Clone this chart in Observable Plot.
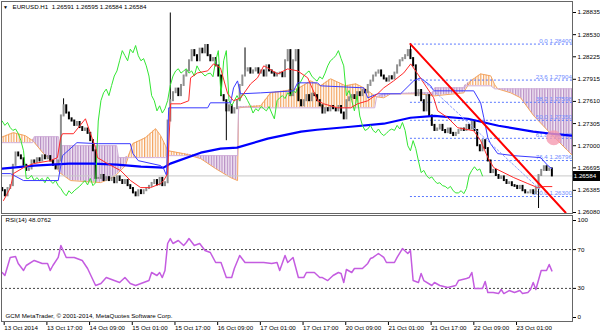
<!DOCTYPE html>
<html><head><meta charset="utf-8">
<script src="https://cdn.jsdelivr.net/npm/d3@7"></script>
<script src="https://cdn.jsdelivr.net/npm/@observablehq/plot@0.6"></script>
<style>
body{margin:0;background:#fff}
#wrap{position:relative;width:600px;height:333px;overflow:hidden;background:#fff}
#wrap svg{position:absolute;left:0}
</style></head><body><div id="wrap"></div>
<script>
// ---------- DATA ----------
const headerText = "EURUSD.H1  1.26591 1.26595 1.26584 1.26584";
const rsiText = "RSI(14) 48.0762";
const copyrightText = "GCM MetaTrader, \u00a9 2001-2014, MetaQuotes Software Corp.";
const firstOpen = 1.2641;
const closes = [
1.2638,1.2631,1.2641,1.2645,1.2673,1.2690,1.2686,1.2682,1.2673,1.2666,
1.2668,1.2679,1.2677,1.2682,1.2679,1.2686,1.2682,1.2685,1.2679,1.2673,
1.2668,1.2679,1.2741,1.2755,1.2745,1.2737,1.2734,1.2728,1.2732,1.2725,
1.2721,1.2723,1.2717,1.2707,1.2693,1.2655,1.2655,1.2659,1.2652,1.2656,
1.2652,1.2655,1.2649,1.2657,1.2652,1.2648,1.2652,1.2645,1.2641,1.2635,
1.2631,1.2638,1.2634,1.2638,1.2641,1.2644,1.2648,1.2652,1.2646,1.2655,
1.2645,1.2649,1.2734,1.2762,1.2773,1.2778,1.2769,1.2783,1.2796,1.2803,
1.2817,1.2831,1.2824,1.2817,1.2833,1.2828,1.2838,1.2824,1.2817,1.2820,
1.2810,1.2796,1.2769,1.2762,1.2748,1.2755,1.2745,1.2751,1.2762,1.2783,
1.2796,1.2803,1.2806,1.2800,1.2803,1.2806,1.2800,1.2803,1.2796,1.2810,
1.2803,1.2800,1.2796,1.2799,1.2800,1.2795,1.2817,1.2831,1.2769,1.2817,
1.2831,1.2762,1.2755,1.2762,1.2769,1.2762,1.2771,1.2769,1.2762,1.2755,
1.2745,1.2751,1.2748,1.2754,1.2751,1.2748,1.2754,1.2745,1.2737,1.2762,
1.2766,1.2769,1.2765,1.2773,1.2769,1.2776,1.2773,1.2783,1.2789,1.2796,
1.2800,1.2803,1.2796,1.2792,1.2789,1.2795,1.2792,1.2800,1.2810,1.2817,
1.2820,1.2824,1.2831,1.2820,1.2810,1.2769,1.2776,1.2762,1.2748,1.2769,
1.2741,1.2728,1.2721,1.2723,1.2728,1.2721,1.2718,1.2723,1.2717,1.2714,
1.2717,1.2721,1.2723,1.2721,1.2728,1.2723,1.2732,1.2721,1.2700,1.2693,
1.2707,1.2696,1.2679,1.2663,1.2666,1.2659,1.2655,1.2657,1.2652,1.2648,
1.2649,1.2645,1.2644,1.2641,1.2644,1.2638,1.2635,1.2635,1.2638,1.2634,
1.2641,1.2659,1.2666,1.2671,1.2666,1.2668,1.26584];
const lastPrice = 1.26584;
// wicks that stand out
const wickBar  = [23, 63, 84, 91, 153, 201];
const wickHigh = [1.27646, 1.28828, 1.2762, 1.28347, 1.28400, 1.2659];
const wickLow  = [1.2741, 1.2734, 1.27069, 1.2796, 1.2820, 1.26135];
// Ichimoku Tenkan-sen
const tenkanBar = [0.5,3.1,4.2,8,11.7,18.1,20.7,21.9,22.6,26.7,31.2,33.1,35,35.7,39.5,44.4,48.1,51.9,55.6,59.4,60.5,62,63.1,66.9,69.9,70.6,73.2,77,79.2,81.8,84.5,86.7,89.4,93.1,95.7,98,99.5,103.2,107,110.7,114.5,118.2,120.5,125.7,130.6,133.2,137,140.7,143,146.7,150.5,153.1,155.7,161.7,163.2,167,170.7,176.7,179.3,182,184.2,191.7,197,200.7,203,206];
const tenkanVal = [1.26245,1.26423,1.26616,1.26698,1.26753,1.26794,1.26836,1.27110,1.27165,1.27165,1.27371,1.27165,1.26973,1.26836,1.26753,1.26657,1.26520,1.26423,1.26423,1.26478,1.26520,1.26616,1.27577,1.27577,1.27619,1.27935,1.28003,1.28031,1.28127,1.28072,1.27715,1.27619,1.27660,1.27852,1.27935,1.28100,1.28072,1.27989,1.28058,1.28031,1.27935,1.27619,1.27577,1.27522,1.27522,1.27577,1.27619,1.27715,1.27797,1.27893,1.28003,1.28127,1.27989,1.27660,1.27481,1.27385,1.27248,1.27206,1.27069,1.26836,1.26698,1.26561,1.26478,1.26423,1.26437,1.26437];
// Ichimoku Kijun-sen
const kijunBar = [0,3.1,8,21,22.6,28,36,48,49,51,59.4,60.5,61.6,62.4,77,78,85.6,86.7,88.2,89.3,96.9,109.2,110.7,118.2,119.3,135.5,137,140.7,149.3,154.2,156.8,160.6,161.7,176.7,179.3,180.5,182,183,185.7,191.7,201.8,204.5,206];
const kijunVal = [1.26616,1.26616,1.26520,1.26520,1.26863,1.27042,1.27028,1.27028,1.26891,1.26794,1.26726,1.26684,1.26588,1.27522,1.27522,1.27591,1.27591,1.27797,1.27893,1.27715,1.27728,1.27756,1.27866,1.27866,1.27825,1.27797,1.27660,1.27715,1.27715,1.27893,1.27935,1.27825,1.27756,1.27756,1.27591,1.27385,1.27110,1.27028,1.26891,1.26863,1.26836,1.26726,1.26684];
// Ichimoku cloud (Senkou span A / B)
const cloudBar = [-0.6,3.1,4.2,8.7,11.4,12.1,15.5,20,21.1,21.5,25.6,36.9,40.6,42.9,43.6,46.2,47.4,48.9,53.7,57.5,59.4,61.2,62,68,74.4,80,85.6,88.2,88.6,96.9,100.6,110.7,115.6,119.3,123.1,128.7,132.5,135.5,139.6,140.3,143,145.6,156.8,161.3,162.1,173,173.3,175.6,179.3,183.1,184.6,185.7,190.6,194.3,199.2,205.6,211.9,213.8];
const spanA = [1.27110,1.27165,1.27179,1.27138,1.27069,1.27042,1.26891,1.26726,1.26657,1.26630,1.26520,1.26492,1.26547,1.26602,1.26630,1.26726,1.26863,1.27028,1.27110,1.27234,1.27138,1.27000,1.26932,1.26891,1.26822,1.26684,1.26561,1.26520,1.27522,1.27550,1.27728,1.27783,1.27893,1.27825,1.27921,1.27825,1.27852,1.27797,1.27687,1.27673,1.27660,1.27715,1.27715,1.27687,1.27687,1.27728,1.27756,1.27893,1.27989,1.27962,1.27838,1.27783,1.27728,1.27660,1.27412,1.27165,1.26932,1.26863];
const spanB = [1.27042,1.27042,1.27042,1.27042,1.27042,1.27124,1.27124,1.27124,1.27124,1.27000,1.27000,1.27000,1.27000,1.27000,1.26836,1.26836,1.26836,1.26836,1.26836,1.26836,1.26836,1.26836,1.26863,1.26863,1.26863,1.26863,1.26863,1.26863,1.27536,1.27522,1.27522,1.27522,1.27522,1.27522,1.27522,1.27522,1.27522,1.27522,1.27522,1.27673,1.27715,1.27715,1.27728,1.27728,1.27797,1.27797,1.27825,1.27825,1.27825,1.27825,1.27783,1.27783,1.27783,1.27783,1.27783,1.27783,1.27783,1.27783];
// Moving average 200
const maBar = [0,12,25,34,43,52,60.5,63,74.4,81.8,88,99.5,112,118,130.6,143,153,162,174.5,186,199,206,213.8];
const maVal = [1.26684,1.26726,1.26753,1.26753,1.26739,1.26712,1.26698,1.26753,1.26904,1.26959,1.26973,1.27097,1.27193,1.27220,1.27261,1.27303,1.27385,1.27412,1.27371,1.27275,1.27193,1.27165,1.27138];
// Chikou span: closes shifted back
const chikouShift = 26;
// Fibonacci retracement
const fibStartBar = 153;
const fibLevels = [0.0, 23.6, 38.2, 50.0, 61.8, 76.4, 100.0];
const fibPrices = [1.28400, 1.27904, 1.27598, 1.27350, 1.27102, 1.26796, 1.26300];
// trend line & channel
const trendBar = [153, 211.1];
const trendPrice = [1.28400, 1.26080];
const channelBar = [157, 202];
const channelPrice = [1.27921, 1.26382];
const circleBar = [206.7];
const circlePrice = [1.27110];
// price axis
const priceTicks = [1.26080, 1.26385, 1.26695, 1.27000, 1.27305, 1.27610, 1.27915, 1.28225, 1.28530, 1.28835];
// RSI
const rsiBar = [0,1,3,5,6,8,9,12,15,17,18,19,21,22,24,27,30,32,35,37,39,42,44,46,48,50,53,55,56,58,59,60,61,62,63,64,66,68,69,70,72,74,76,78,80,82,84,86,87,89,91,94,98,101,103,104,106,107,109,111,113,114,117,119,120,122,124,126,127,128,129,131,132,135,137,138,139,141,143,144,147,148,150,152,153,154,156,157,158,161,162,164,167,170,171,174,175,176,177,180,181,182,184,186,187,188,190,192,194,195,197,198,199,200,202,204,205,206];
const rsiVal = [46.4,43.3,61.9,62.9,55.7,48.5,53.6,58.8,55.7,55.7,48.5,53.6,61.9,74.2,61.9,61.9,58.8,50.5,33.0,35.1,41.2,38.1,36.1,41.2,35.1,33.0,36.1,38.1,46.4,43.3,46.4,41.2,48.5,76.3,81.4,76.3,79.4,74.2,77.3,81.4,74.2,76.3,69.1,67.0,56.7,56.7,41.2,41.2,50.5,63.9,56.7,56.7,56.7,55.7,56.7,48.5,63.9,56.7,61.9,41.2,41.2,46.4,46.4,41.2,41.2,38.1,43.3,46.4,45.4,36.1,49.5,46.4,50.5,50.5,55.7,60.8,61.9,66.0,61.9,56.7,56.7,61.9,71.1,66.0,69.1,38.1,36.1,45.4,38.1,33.0,36.1,33.0,30.9,33.0,38.1,40.2,41.2,46.4,29.9,29.9,37.1,25.8,25.8,24.7,28.9,24.7,27.8,25.8,27.8,24.7,25.8,28.9,36.1,28.9,48.5,48.5,54.6,48.0762];
const rsiLevels = [30, 70];
const rsiTicks = [0, 30, 70, 100];
// time axis
const timeTickBars = [0,16,32,48,64,80,96,112,128,144,160,176,192];
const timeLabels = ["13 Oct 2014","13 Oct 17:00","14 Oct 09:00","15 Oct 01:00","15 Oct 17:00","16 Oct 09:00","17 Oct 01:00","17 Oct 17:00","20 Oct 09:00","21 Oct 01:00","21 Oct 17:00","22 Oct 09:00","23 Oct 01:00"];

// ---------- BUILD ----------
const font = {fontFamily: "'Liberation Sans', Arial, sans-serif", fontSize: "6.2px", color: "#000", background: "transparent", overflow: "visible"};
const xScale = {domain: [-0.637, 213.73], range: [0, 572]};

const candles = closes.map((c, i) => {
  const o = i ? closes[i - 1] : firstOpen;
  return {i, o, c, up: c >= o};
});
const wicks = wickBar.map((b, k) => ({b, h: wickHigh[k], l: wickLow[k]}));
const tenkan = tenkanBar.map((b, k) => ({b, v: tenkanVal[k]}));
const kijun = kijunBar.map((b, k) => ({b, v: kijunVal[k]}));
const cloud = cloudBar.map((b, k) => ({b, a: spanA[k], s: spanB[k], top: Math.max(spanA[k], spanB[k])}));
const ma = maBar.map((b, k) => ({b, v: maVal[k]}));
const chikou = closes.map((c, i) => ({b: i - chikouShift, v: c})).filter(d => d.b >= 0);
const fib = fibLevels.map((l, k) => ({l, p: fibPrices[k], label: l.toFixed(1) + " " + fibPrices[k].toFixed(5)}));
const trend = trendBar.map((b, k) => ({b, p: trendPrice[k]}));
const channel = channelBar.map((b, k) => ({b, p: channelPrice[k]}));
const circle = circleBar.map((b, k) => ({b, p: circlePrice[k]}));
const rsi = rsiBar.map((b, k) => ({b, v: rsiVal[k]}));

function defs() {
  const d = d3.create("svg:defs");
  const mk = (id, col) => {
    const p = d.append("pattern").attr("id", id).attr("patternUnits", "userSpaceOnUse")
      .attr("width", 2.668).attr("height", 4);
    p.append("rect").attr("x", 0).attr("y", 0).attr("width", 1.2).attr("height", 4).attr("fill", col);
  };
  mk("hatchO", "#f4a460");
  mk("hatchL", "#b88ec4");
  return d.node();
}

const main = Plot.plot({
  width: 600, height: 214,
  marginLeft: 1, marginRight: 28, marginTop: 1, marginBottom: 1,
  style: font,
  x: {...xScale, axis: null},
  y: {domain: [1.2608, 1.28835], range: [212, 12], axis: null},
  marks: [
    defs,
    Plot.areaY(cloud, {x: "b", y1: "a", y2: "top", fill: "#f1e6f3", clip: true}),
    Plot.areaY(cloud, {x: "b", y1: "s", y2: "top", fill: "url(#hatchO)", clip: true}),
    Plot.areaY(cloud, {x: "b", y1: "a", y2: "top", fill: "url(#hatchL)", clip: true}),
    Plot.line(cloud, {x: "b", y: "a", stroke: "#f4a460", strokeWidth: 1, clip: true}),
    Plot.line(cloud, {x: "b", y: "s", stroke: "#d0aed8", strokeWidth: 1, clip: true}),
    Plot.ruleY([lastPrice], {stroke: "#c8c8c8", strokeWidth: 1}),
    Plot.ruleY(fib, {y: "p", x1: fibStartBar, x2: 213.73, stroke: "#5a78ff", strokeDasharray: "2,2", strokeWidth: 1}),
    Plot.text(fib, {y: "p", x: 213.5, text: "label", textAnchor: "end", dy: -3.5, fill: "#6f8cff"}),
    Plot.ruleX(wicks, {x: "b", y1: "l", y2: "h", stroke: "#000", strokeWidth: 1}),
    Plot.ruleX(candles.filter(d => d.up), {x: "i", y1: "o", y2: "c", stroke: "#8f8f8f", strokeWidth: 2, strokeLinecap: "square"}),
    Plot.ruleX(candles.filter(d => !d.up), {x: "i", y1: "o", y2: "c", stroke: "#000", strokeWidth: 2, strokeLinecap: "square"}),
    Plot.line(ma, {x: "b", y: "v", stroke: "#0000ff", strokeWidth: 2.2, clip: true}),
    Plot.line(chikou, {x: "b", y: "v", stroke: "#33e633", strokeWidth: 1, clip: true}),
    Plot.line(kijun, {x: "b", y: "v", stroke: "#3a3aff", strokeWidth: 1, clip: true}),
    Plot.line(tenkan, {x: "b", y: "v", stroke: "#ff2a2a", strokeWidth: 1, clip: true}),
    Plot.line(channel, {x: "b", y: "p", stroke: "#8fa0ff", strokeDasharray: "2,2", strokeWidth: 1, clip: true}),
    Plot.line(trend, {x: "b", y: "p", stroke: "#ff0000", strokeWidth: 2, clip: true}),
    Plot.dot(circle, {x: "b", y: "p", r: 7.5, fill: "#f59ab0", fillOpacity: 0.8, stroke: "none"}),
    Plot.axisY(priceTicks, {anchor: "right", tickSize: 3, tickPadding: 2, tickFormat: d3.format(".5f"), label: null, stroke: "#000"}),
    Plot.ruleY([lastPrice], {x1: 213.73, x2: 226, stroke: "#000", strokeWidth: 10}),
    Plot.text([lastPrice], {y: d => d, x: 214.2, text: d => d.toFixed(5), textAnchor: "start", fill: "#fff"}),
    Plot.text(["\u25BC"], {frameAnchor: "top-left", dx: 4, dy: 6, fontSize: 5, textAnchor: "middle", lineAnchor: "middle"}),
    Plot.text([headerText], {frameAnchor: "top-left", dx: 11, dy: 6, textAnchor: "start", lineAnchor: "middle"}),
    Plot.frame({stroke: "#666"})
  ]
});
main.style.top = "0px";

const rsiChart = Plot.plot({
  width: 600, height: 119,
  marginLeft: 1, marginRight: 28, marginTop: 1, marginBottom: 12,
  style: font,
  x: {...xScale, axis: null},
  y: {domain: [0, 100], range: [103, 6], axis: null},
  marks: [
    Plot.ruleY(rsiLevels, {stroke: "#444", strokeDasharray: "2,2", strokeWidth: 1}),
    Plot.line(rsi, {x: "b", y: "v", stroke: "#c45ce0", strokeWidth: 1.5, clip: true}),
    Plot.text([rsiText], {frameAnchor: "top-left", dx: 4, dy: 5, textAnchor: "start", lineAnchor: "middle"}),
    Plot.text([copyrightText], {frameAnchor: "bottom-left", dx: 4, dy: -5, textAnchor: "start", lineAnchor: "middle"}),
    Plot.axisY(rsiTicks, {anchor: "right", tickSize: 3, tickPadding: 2, tickFormat: d => String(d), label: null}),
    Plot.axisX(timeTickBars, {anchor: "bottom", tickSize: 4, tickPadding: 0, tickFormat: d => timeLabels[timeTickBars.indexOf(d)], textAnchor: "start", dx: 2, label: null}),
    Plot.frame({stroke: "#666"})
  ]
});
rsiChart.style.top = "214px";

const wrap = document.getElementById("wrap");
wrap.appendChild(main);
wrap.appendChild(rsiChart);
</script>
</body></html>
